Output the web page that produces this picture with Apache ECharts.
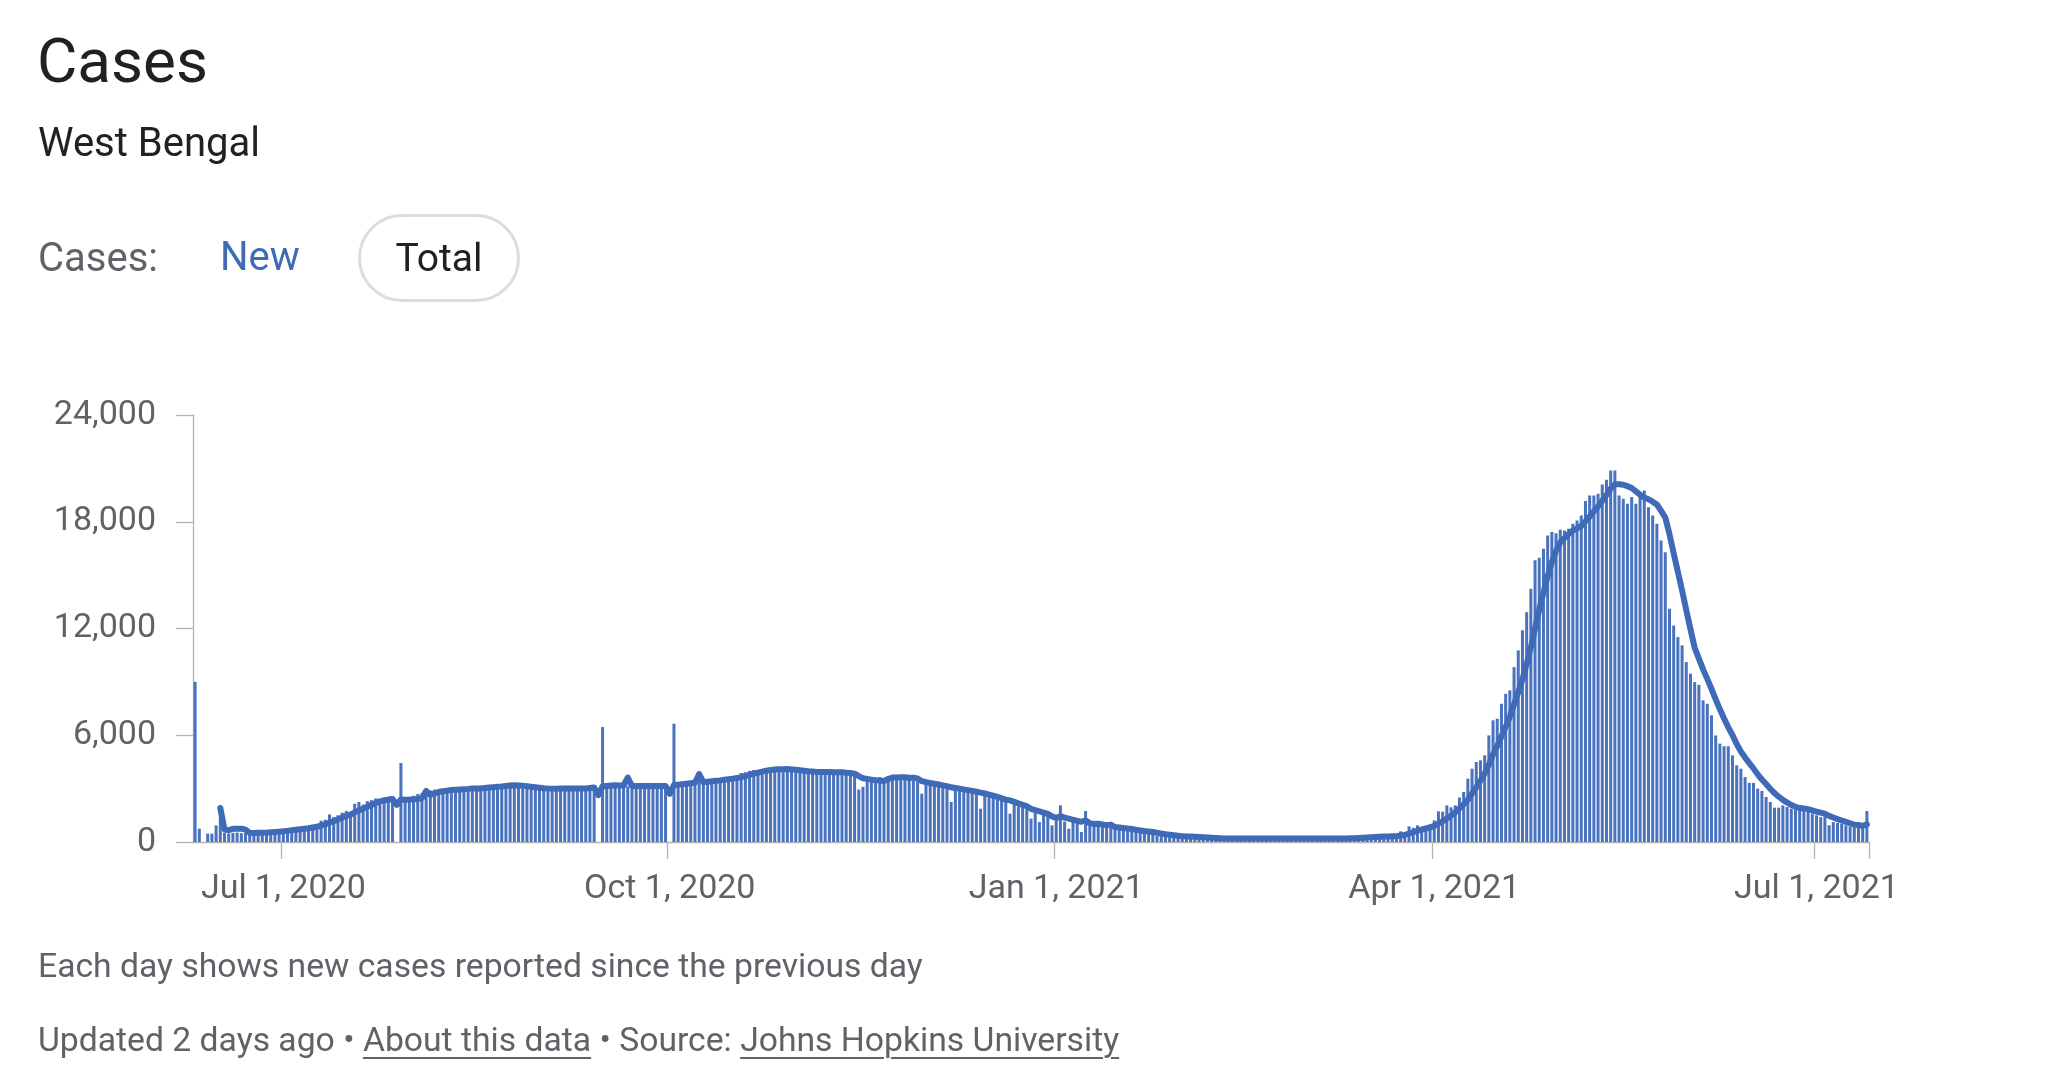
<!DOCTYPE html>
<html>
<head>
<meta charset="utf-8">
<script src="https://cdn.jsdelivr.net/npm/echarts@6/dist/echarts.min.js"></script>
<style>
  html, body { margin: 0; padding: 0; background: #ffffff; width: 2048px; height: 1088px; overflow: hidden;
    font-family: Roboto, "Noto Sans", sans-serif; }
  #chart { position: absolute; left: 0; top: 0; width: 2048px; height: 1088px; }
  .t { position: absolute; white-space: nowrap; line-height: 1; }
  .pill { position: absolute; left: 358px; top: 214px; width: 162px; height: 88px; box-sizing: border-box;
    border: 3px solid #dadce0; border-radius: 44px; display: flex; align-items: center; justify-content: center;
    font-size: 39px; line-height: 1; color: #202124; font-weight: 400; }
  .u { text-decoration: underline; text-decoration-thickness: 2px; text-underline-offset: 6px; }
</style>
</head>
<body>
<div id="chart"></div>
<div class="t" style="left:37px; top:30px; font-size:62px; color:#202124;">Cases</div>
<div class="t" style="left:38px; top:123px; font-size:40px; color:#202124;">West Bengal</div>
<div class="t" style="left:38px; top:238px; font-size:40px; color:#5f6368;">Cases:</div>
<div class="t" style="left:220px; top:237px; font-size:40px; color:#3d6bb6;">New</div>
<div class="pill">Total</div>
<div class="t" style="left:38px; top:949px; font-size:33.7px; color:#5f6368;">Each day shows new cases reported since the previous day</div>
<div class="t" style="left:38px; top:1023px; font-size:33.7px; color:#5f6368;">Updated 2 days ago • <span class="u">About this data</span> • Source: <span class="u">Johns Hopkins University</span></div>
<script>
// ---- Data (daily new cases, West Bengal) ----
const startDate = '2020-06-10';
const jun2020 = [9000, 750, 0, 470, 470, 935, 1780, 520, 480, 510, 530, 500, 520, 540, 500, 520, 530, 580, 620, 650, 660];
const jul2020 = [640, 700, 740, 780, 820, 850, 880, 930, 1000, 1200, 1250, 1550, 1400, 1500, 1650, 1750, 1700, 2150, 2250, 2100,
                 2300, 2350, 2450, 2400, 2500, 2550, 2400, 0, 4440, 2350, 2450];
const aug2020 = [2600, 2700, 2750, 2800, 2900, 2950, 2950, 2900, 2950, 3000, 2950, 3000, 3050, 3050, 3050, 3000, 3000, 3100, 3180, 3170,
                 3190, 3180, 3200, 3170, 3190, 3150, 3020, 3000, 2990, 3010, 3000];
const sep2020 = [3000, 3010, 2990, 3000, 3020, 3000, 2990, 3010, 3000, 3020, 3050, 3200, 3200, 0, 6460,
                 3140, 3160, 3150, 3150, 3170, 3140, 3150, 3160, 3150, 3140, 3150, 3160, 3150, 3150, 3160];
const oct2020 = [0, 6650, 3300, 3320, 3340, 3330, 3350, 3450, 3470, 3480, 3500, 3490, 3510, 3620, 3650, 3680, 3700,
                 3880, 3920, 4000, 4050, 4030, 4080, 4100, 4120, 4100, 4110, 4090, 4100, 3950, 3930];
const nov2020 = [3930, 3940, 3920, 3950, 3930, 3910, 3940, 3930, 3900, 3920, 3880, 3800, 3750, 3700, 2950, 3100, 3650, 3600, 3550, 3650,
                 3500, 3700, 3720, 3700, 3650, 3550, 3500, 3450, 3400, 2716];
const dec2020 = [3300, 3280, 3250, 3200, 3150, 3100, 2250, 3050, 3000, 2950, 2900, 2850, 2800, 1870, 2700, 2600, 2500, 2400, 2350, 2250,
                 1590, 2100, 2000, 1950, 1850, 1310, 1750, 1120, 1600, 1500, 936];
const jan2021 = [1200, 2060, 1150, 750, 1150, 1100, 560, 1740, 900, 880, 860, 840, 820, 800, 780, 700, 680, 660, 640, 560,
                 540, 520, 520, 500, 340, 330, 320, 320, 310, 300, 300];
const feb2021 = [290, 280, 270, 210, 200, 190, 200, 210, 200, 195, 205, 200, 190, 200, 210, 200, 195, 205, 200, 190,
                 200, 210, 200, 195, 205, 200, 195, 200];
const mar2021 = [200, 205, 195, 200, 210, 200, 200, 195, 205, 210, 200, 215, 220, 300, 310, 305, 320, 315, 310, 320,
                 330, 325, 340, 600, 550, 880, 800, 936, 805, 750, 1000];
const apr2021 = [1217, 1723, 1700, 2060, 1950, 2060, 2500, 2810, 3560, 4120, 4495, 4590, 4870, 5990, 6840, 6930, 7770, 8330, 8520, 9830,
                 10770, 11900, 12920, 14230, 15830, 15980, 16480, 17230, 17420, 17360];
const may2021 = [17550, 17510, 17600, 17890, 18070, 18350, 19160, 19480, 19480, 19570, 20100, 20360, 20880, 20880, 19480, 19290, 19010, 19390, 19010, 19570,
                 19760, 18820, 18350, 17890, 16950, 16290, 13110, 12170, 11520, 11050, 10110];
const jun2021 = [9460, 8990, 8830, 7960, 7770, 7120, 5990, 5530, 5380, 5380, 4870, 4310, 4120, 3650, 3320, 3320, 3000, 2870, 2530, 2250,
                 1930, 1930, 2060, 1970, 1870, 1820, 1780, 1740, 1690, 1590];
const jul2021 = [1500, 1400, 1400, 940, 1120, 1070, 1030, 940, 880, 840, 800, 750, 1740];

const tickDates  = ['2020-07-01', '2020-10-01', '2021-01-01', '2021-04-01', '2021-07-01'];
const tickLabels = ['Jul 1, 2020', 'Oct 1, 2020', 'Jan 1, 2021', 'Apr 1, 2021', 'Jul 1, 2021'];
const yTicks = { min: 0, max: 24000, step: 6000 };

const newCases = [].concat(jun2020, jul2020, aug2020, sep2020, oct2020, nov2020, dec2020,
                           jan2021, feb2021, mar2021, apr2021, may2021, jun2021, jul2021);

// categories: one per day starting at startDate
const categories = [];
(function () {
  const d0 = new Date(startDate + 'T00:00:00Z');
  for (let i = 0; i < newCases.length; i++) {
    const d = new Date(d0.getTime() + i * 86400000);
    categories.push(d.toISOString().slice(0, 10));
  }
})();

// 7-day trailing average of the daily values (the thick line)
const avg7 = newCases.map((v, i) => {
  if (i < 6) return null;
  let s = 0;
  for (let k = i - 6; k <= i; k++) s += newCases[k];
  return Math.round(s / 7);
});

const axisGray = '#b3b3b3';
const labelGray = '#5f6368';
const isTick = (idx, val) => tickDates.indexOf(val) >= 0;

const chart = echarts.init(document.getElementById('chart'), null, { renderer: 'canvas' });
chart.setOption({
  animation: false,
  backgroundColor: '#ffffff',
  grid: { left: 193, top: 415, width: 1676, height: 427 },
  xAxis: {
    type: 'category',
    data: categories,
    boundaryGap: true,
    axisLine: { show: true, lineStyle: { color: axisGray, width: 1.3 } },
    axisTick: { show: true, length: 17, interval: isTick, alignWithLabel: false, lineStyle: { color: axisGray, width: 1.3 } },
    axisLabel: {
      interval: isTick,
      hideOverlap: false,
      formatter: (v) => tickLabels[tickDates.indexOf(v)] || '',
      fontSize: 34, color: labelGray, fontFamily: 'Roboto', margin: 30
    },
    splitLine: { show: false }
  },
  yAxis: {
    type: 'value',
    min: yTicks.min, max: yTicks.max, interval: yTicks.step,
    axisLine: { show: true, lineStyle: { color: axisGray, width: 1.3 } },
    axisTick: { show: true, length: 17, lineStyle: { color: axisGray, width: 1.3 } },
    axisLabel: { fontSize: 34, color: labelGray, fontFamily: 'Roboto', margin: 37,
      formatter: (v) => v.toLocaleString('en-US') },
    splitLine: { show: false }
  },
  series: [
    { name: 'New cases', type: 'bar', data: newCases, barWidth: '72%',
      itemStyle: { color: '#4a73bf' }, silent: true, z: 2 },
    { name: '7-day average', type: 'line', data: avg7, showSymbol: false, symbol: 'none',
      lineStyle: { width: 6, color: '#3e6ab8', join: 'round', cap: 'round' }, z: 3, silent: true }
  ]
});
</script>
</body>
</html>
